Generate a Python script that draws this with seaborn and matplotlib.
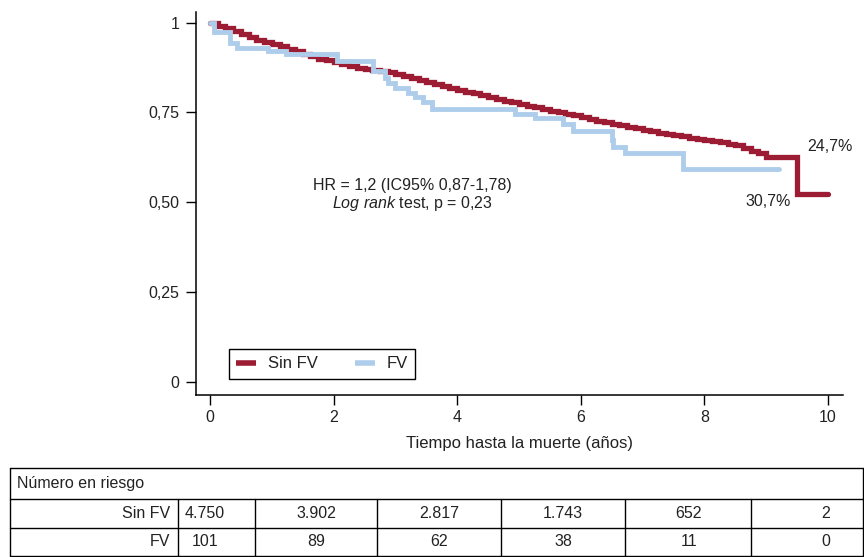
import matplotlib
matplotlib.use("Agg")
import matplotlib.pyplot as plt
import seaborn as sns
import pandas as pd

# curva Sin FV (rojo)
t_sin = [0, 0.125, 0.25, 0.375, 0.5, 0.625, 0.75, 0.875, 1.0, 1.125, 1.25,
         1.375, 1.5, 1.625, 1.75, 1.875, 2.0, 2.125, 2.25, 2.375, 2.5, 2.625,
         2.75, 2.875, 3.0, 3.125, 3.25, 3.375, 3.5, 3.625, 3.75, 3.875, 4.0,
         4.125, 4.25, 4.375, 4.5, 4.625, 4.75, 4.875, 5.0, 5.125, 5.25, 5.375,
         5.5, 5.625, 5.75, 5.875, 6.0, 6.125, 6.25, 6.375, 6.5, 6.625, 6.75,
         6.875, 7.0, 7.125, 7.25, 7.375, 7.5, 7.625, 7.75, 7.875, 8.0, 8.125,
         8.25, 8.375, 8.5, 8.625, 8.75, 8.875, 9.0, 9.5, 10.0]
s_sin = [1.0, 0.992, 0.985, 0.976, 0.968, 0.96, 0.952, 0.946, 0.94, 0.934,
         0.928, 0.92, 0.913, 0.906, 0.9, 0.895, 0.891, 0.885, 0.88, 0.875,
         0.87, 0.868, 0.866, 0.862, 0.857, 0.851, 0.845, 0.84, 0.834, 0.828,
         0.823, 0.818, 0.813, 0.808, 0.803, 0.798, 0.793, 0.788, 0.783, 0.778,
         0.774, 0.769, 0.764, 0.759, 0.755, 0.751, 0.747, 0.742, 0.737, 0.732,
         0.727, 0.722, 0.718, 0.714, 0.71, 0.706, 0.702, 0.698, 0.694, 0.69,
         0.687, 0.683, 0.68, 0.677, 0.674, 0.67, 0.667, 0.663, 0.658, 0.651,
         0.643, 0.636, 0.626, 0.523, 0.523]

# curva FV (azul)
t_fv = [0, 0.07, 0.32, 0.43, 0.94, 1.23, 2.05, 2.64, 2.83, 2.88, 2.99, 3.2,
        3.32, 3.45, 3.59, 4.94, 5.26, 5.71, 5.87, 6.5, 6.52, 6.72, 7.66, 9.2]
s_fv = [1.0, 0.974, 0.943, 0.931, 0.922, 0.913, 0.893, 0.866, 0.845, 0.831,
        0.817, 0.803, 0.794, 0.78, 0.759, 0.747, 0.734, 0.717, 0.697, 0.673,
        0.653, 0.636, 0.592, 0.592]

grupos = ["Sin FV", "FV"]
colores = ["#9b1c33", "#aecdeb"]
riesgo_sin = ["4.750", "3.902", "2.817", "1.743", "652", "2"]
riesgo_fv = ["101", "89", "62", "38", "11", "0"]

sns.set_style("white")
plt.rcParams["font.family"] = ["Liberation Sans", "DejaVu Sans"]
plt.rcParams["mathtext.fontset"] = "custom"
plt.rcParams["mathtext.rm"] = "Liberation Sans"
plt.rcParams["mathtext.it"] = "Liberation Sans:italic"

W, H = 864, 557
fig = plt.figure(figsize=(W / 100, H / 100), dpi=100)
fig.patch.set_facecolor("white")

# eje principal en pixeles: izq 196, der 843, arriba 12, abajo 395
ax = fig.add_axes([196 / W, 1 - 395 / H, (843 - 196) / W, (395 - 12) / H])

df_sin = pd.DataFrame({"t": t_sin, "s": s_sin, "grupo": grupos[0]})
df_fv = pd.DataFrame({"t": t_fv, "s": s_fv, "grupo": grupos[1]})
sns.lineplot(data=df_sin, x="t", y="s", color=colores[0], linewidth=3.8,
             drawstyle="steps-post", ax=ax, solid_joinstyle="miter")
sns.lineplot(data=df_fv, x="t", y="s", color=colores[1], linewidth=3.5,
             drawstyle="steps-post", ax=ax, solid_joinstyle="miter")

ax.set_xlim(-0.227, 10.243)
ax.set_ylim(-0.0376, 1.03)
ax.set_xticks([0, 2, 4, 6, 8, 10])
ax.set_xticklabels(["0", "2", "4", "6", "8", "10"])
ax.set_yticks([0, 0.25, 0.5, 0.75, 1])
ax.set_yticklabels(["0", "0,25", "0,50", "0,75", "1"])
ax.tick_params(axis="both", direction="out", length=7, width=1, color="black",
               labelsize=11.5, labelcolor="#222222", bottom=True, left=True)
ax.tick_params(axis="x", pad=4)
ax.tick_params(axis="y", pad=5)
for lado in ["top", "right"]:
    ax.spines[lado].set_visible(False)
for lado in ["left", "bottom"]:
    ax.spines[lado].set_color("black")
    ax.spines[lado].set_linewidth(1.1)
ax.set_xlabel("Tiempo hasta la muerte (años)", fontsize=12, color="#222222",
              labelpad=8)
ax.set_ylabel("")

ax.text(3.28, 0.545, "HR = 1,2 (IC95% 0,87-1,78)", ha="center", va="center",
        fontsize=11.5, color="#222222")
ax.text(3.28, 0.495, r"$\mathit{Log\ rank}$ test, p = 0,23", ha="center",
        va="center", fontsize=11.5, color="#222222")
ax.text(9.66, 0.656, "24,7%", ha="left", va="center", fontsize=11.5,
        color="#222222")
ax.text(9.40, 0.503, "30,7%", ha="right", va="center", fontsize=11.5,
        color="#222222")

h1, = ax.plot([], [], color=colores[0], linewidth=4.0,
              solid_capstyle="butt")
h2, = ax.plot([], [], color=colores[1], linewidth=4.0,
              solid_capstyle="butt")
leg = ax.legend([h1, h2], grupos, ncol=2, loc="lower left",
                bbox_to_anchor=(0.051, 0.042), borderaxespad=0,
                fontsize=12, handlelength=1.2, handletextpad=0.7,
                columnspacing=2.2, fancybox=False, framealpha=1,
                edgecolor="black", borderpad=0.45)
leg.get_frame().set_linewidth(1.0)
for txt in leg.get_texts():
    txt.set_color("#222222")

# tabla de numero en riesgo (coordenadas en pixeles)
tab = fig.add_axes([0, 0, 1, 1], facecolor="none")
tab.set_xlim(0, W)
tab.set_ylim(H, 0)
tab.axis("off")
lw = 1.0
for y in [468, 499, 528, 556]:
    tab.plot([10, 863], [y, y], color="black", linewidth=lw)
tab.plot([10, 10], [468, 556], color="black", linewidth=lw)
tab.plot([863, 863], [468, 556], color="black", linewidth=lw)
for x in [178, 255, 377, 501, 625, 751]:
    tab.plot([x, x], [499, 556], color="black", linewidth=lw)

tab.text(17, 483.5, "Número en riesgo", ha="left", va="center", fontsize=11.5,
         color="#222222")
tab.text(170, 513.5, grupos[0], ha="right", va="center", fontsize=11.5,
         color="#222222")
tab.text(170, 542, grupos[1], ha="right", va="center", fontsize=11.5,
         color="#222222")
col_x = [205, 316, 439, 563, 689, 826]
for x, a, b in zip(col_x, riesgo_sin, riesgo_fv):
    tab.text(x, 513.5, a, ha="center", va="center", fontsize=11.5,
             color="#222222")
    tab.text(x, 542, b, ha="center", va="center", fontsize=11.5,
             color="#222222")

fig.savefig("out.png", dpi=100, facecolor="white")
